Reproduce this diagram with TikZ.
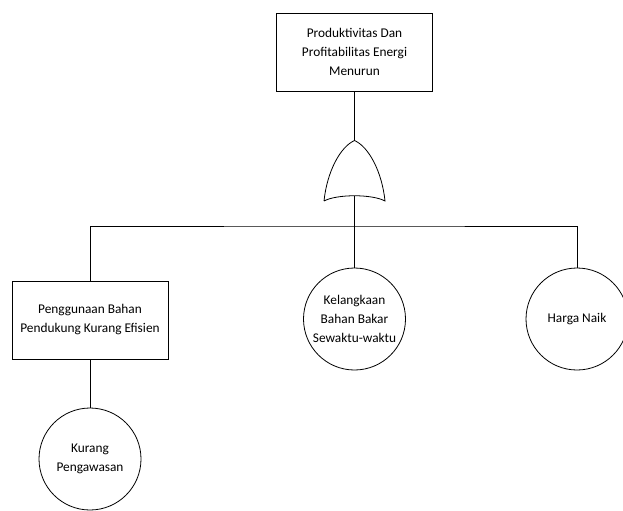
\documentclass[tikz,border=0pt]{standalone}
\usepackage{fontspec}
\setmainfont{Carlito}
\usetikzlibrary{positioning,calc}

\begin{document}
\begin{tikzpicture}[x=0.75pt, y=-0.75pt, line width=0.6pt,
        every node/.style={font=\fontsize{10}{14.25}\selectfont, align=center},
        event/.style={draw, rectangle, minimum width=117.5pt, minimum height=58.5pt, inner sep=0pt},
        basic/.style={draw, circle, minimum size=76.5pt, inner sep=0pt}]
    \useasboundingbox (0,0) rectangle (623,510);

    % top event
    \node[event] (top) at (354.5,52) {Produktivitas Dan\\Profitabilitas Energi\\Menurun};

    % or gate
    \coordinate (gatetop) at (354.5,140.5);
    \coordinate (gatebot) at (354.5,196);
    \draw (324,201) .. controls (327,172) and (340,147) .. (gatetop)
        .. controls (369,147) and (382,172) .. (385,201)
        .. controls (372,194) and (337,194) .. (324,201);
    \coordinate (bar) at (354.5,226);

    % causes
    \node[event, minimum width=117pt] (bahan) at (90,320) {Penggunaan Bahan\\Pendukung Kurang Efisien};
    \node[basic] (langka) at (354.5,319) {Kelangkaan\\Bahan Bakar\\Sewaktu-waktu};
    \node[basic] (harga) at (577,319) {Harga Naik};
    \node[basic] (awas) at (90,459) {Kurang\\Pengawasan};

    \draw (top.south) -- (gatetop);
    \draw (gatebot) -- (langka.north);
    \draw (bahan.north) |- (bar) -| (harga.north);
    \draw (bahan.south) -- (awas.north);
\end{tikzpicture}
\end{document}
